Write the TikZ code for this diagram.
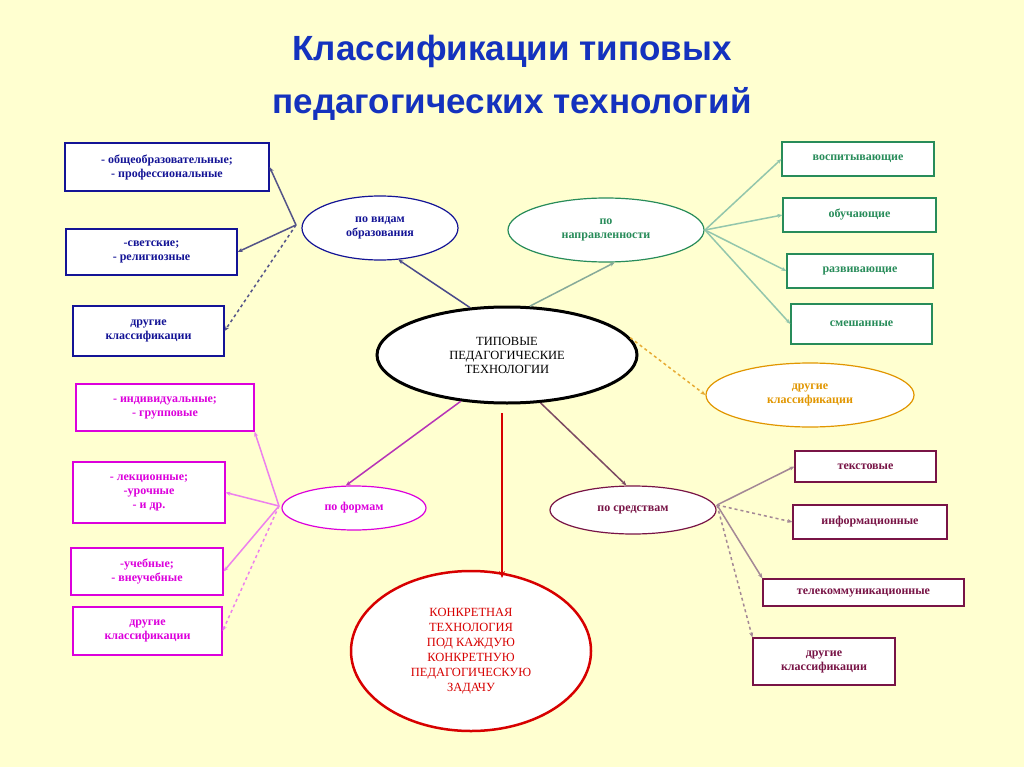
\documentclass[tikz,border=0pt]{standalone}
\usepackage{fontspec}
\setmainfont{Liberation Serif}
\newfontfamily\titlefont{Liberation Sans}
\usetikzlibrary{shapes.geometric,arrows.meta}
\definecolor{bg}{RGB}{255,255,208}
\definecolor{navy}{RGB}{20,20,150}
\definecolor{ttl}{RGB}{20,50,190}
\definecolor{grn}{RGB}{40,140,90}
\definecolor{org}{RGB}{225,150,0}
\definecolor{prp}{RGB}{120,20,70}
\definecolor{mgn}{RGB}{220,0,220}
\definecolor{rd}{RGB}{215,0,0}
\tikzset{
 box/.style={draw, line width=1.2pt, fill=white, align=center, font=\fontsize{12}{14}\selectfont\bfseries, inner sep=0pt},
 oval/.style={ellipse, draw, line width=1.2pt, fill=white, align=center, font=\fontsize{12}{14}\selectfont\bfseries, inner sep=0pt},
 arr/.style={-{Stealth[length=5pt,width=4pt]}, line width=1.5pt},
 darr/.style={arr, dashed}
}
\begin{document}
\begin{tikzpicture}[x=1pt,y=-1pt]
\fill[bg] (0,0) rectangle (1024,767);
\useasboundingbox (0,0) rectangle (1024,767);
\node[text=ttl, font=\titlefont\fontsize{35}{53}\selectfont\bfseries, align=center] (title) at (512,78) {Классификации типовых\\педагогических технологий};
\node[oval, minimum width=260, minimum height=96, line width=3pt, font=\fontsize{12.5}{14}\selectfont] (main) at (507,355) {ТИПОВЫЕ\\ПЕДАГОГИЧЕСКИЕ\\ТЕХНОЛОГИИ};
\node[oval, draw=navy, text=navy, minimum width=156, minimum height=64] (vid) at (380,228) {по видам\\образования};
\node[oval, draw=grn, text=grn, minimum width=196, minimum height=64] (napr) at (606,230) {по\\направленности};
\node[oval, draw=org, text=org, minimum width=208, minimum height=64] (dr) at (810,395) {другие\\классификации};
\node[oval, draw=prp, text=prp, minimum width=166, minimum height=48] (sr) at (633,510) {по средствам};
\node[oval, draw=mgn, text=mgn, minimum width=144, minimum height=44] (fo) at (354,508) {по формам};
\node[oval, draw=rd, text=rd, minimum width=240, minimum height=160, line width=2.5pt, font=\fontsize{12.5}{15}\selectfont] (konk) at (471,651) {КОНКРЕТНАЯ\\ТЕХНОЛОГИЯ\\ПОД КАЖДУЮ\\КОНКРЕТНУЮ\\ПЕДАГОГИЧЕСКУЮ\\ЗАДАЧУ};
\node[box, draw=navy, text=navy, minimum width=204, minimum height=48] (v1) at (167,167) {- общеобразовательные;\\- профессиональные};
\node[box, draw=navy, text=navy, minimum width=171, minimum height=46] (v2) at (151.5,252) {-светские;\\- религиозные};
\node[box, draw=navy, text=navy, minimum width=151, minimum height=50] (v3) at (148.5,331) {другие\\классификации};
\node[box, draw=grn, text=grn, minimum width=152, minimum height=34] (n1) at (858,159) {воспитывающие};
\node[box, draw=grn, text=grn, minimum width=153, minimum height=34] (n2) at (859.5,215) {обучающие};
\node[box, draw=grn, text=grn, minimum width=146, minimum height=34] (n3) at (860,271) {развивающие};
\node[box, draw=grn, text=grn, minimum width=141, minimum height=40] (n4) at (861.5,324) {смешанные};
\node[box, draw=mgn, text=mgn, minimum width=178, minimum height=47] (f1) at (165,407.5) {- индивидуальные;\\- групповые};
\node[box, draw=mgn, text=mgn, minimum width=152, minimum height=61] (f2) at (149,492.5) {- лекционные;\\-урочные\\- и др.};
\node[box, draw=mgn, text=mgn, minimum width=152, minimum height=47] (f3) at (147,571.5) {-учебные;\\- внеучебные};
\node[box, draw=mgn, text=mgn, minimum width=149, minimum height=48] (f4) at (147.5,631) {другие\\классификации};
\node[box, draw=prp, text=prp, minimum width=141, minimum height=31] (s1) at (865.5,466.5) {текстовые};
\node[box, draw=prp, text=prp, minimum width=154, minimum height=34] (s2) at (870,522) {информационные};
\node[box, draw=prp, text=prp, minimum width=201, minimum height=27] (s3) at (863.5,592.5) {телекоммуникационные};
\node[box, draw=prp, text=prp, minimum width=142, minimum height=47] (s4) at (824,661.5) {другие\\классификации};
\coordinate (vo) at (296,225);
\coordinate (no) at (705,230);
\coordinate (fo0) at (279,506);
\coordinate (so) at (717,505);
\coordinate (rt) at (502,413);
\coordinate (rb) at (502,578);
\draw[arr, navy!50!gray] (main.128) -- (vid.300);
\draw[arr, grn!50!gray!70] (main.65) -- (napr.285);
\draw[darr, org!80] (main.8) -- (dr.west);
\draw[arr, prp!50!gray] (main.305) -- (sr.105);
\draw[arr, mgn!60!gray] (main.225) -- (fo.110);
\draw[-{Stealth[length=7pt,width=6pt]}, rd, line width=2.5pt] (rt) -- (rb);
\draw[arr, navy!40!gray] (vo) -- (v1.east);
\draw[arr, navy!40!gray] (vo) -- (v2.east);
\draw[darr, navy!40!gray] (vo) -- (v3.east);
\draw[arr, grn!50!white] (no) -- (n1.west);
\draw[arr, grn!50!white] (no) -- (n2.west);
\draw[arr, grn!50!white] (no) -- (n3.west);
\draw[arr, grn!50!white] (no) -- (n4.west);
\draw[arr, mgn!50!white] (fo0) -- (f1.south east);
\draw[arr, mgn!50!white] (fo0) -- (f2.east);
\draw[arr, mgn!50!white] (fo0) -- (f3.east);
\draw[darr, mgn!50!white] (fo0) -- (f4.east);
\draw[arr, prp!40!gray!70] (so) -- (s1.west);
\draw[darr, prp!40!gray!70] (so) -- (s2.west);
\draw[arr, prp!40!gray!70] (so) -- (s3.north west);
\draw[darr, prp!40!gray!70] (so) -- (s4.north west);
\end{tikzpicture}
\end{document}
